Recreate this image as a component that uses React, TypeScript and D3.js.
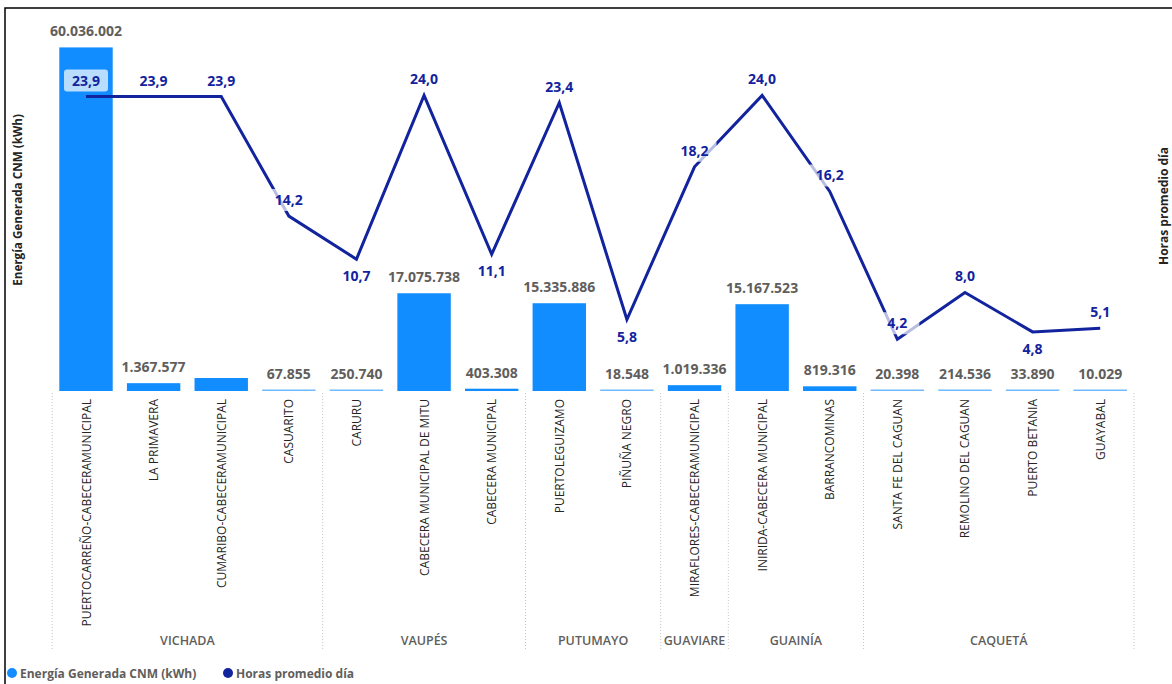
import React from "react";
import * as d3 from "d3";

const categories = [
  "PUERTOCARREÑO-CABECERAMUNICIPAL",
  "LA PRIMAVERA",
  "CUMARIBO-CABECERAMUNICIPAL",
  "CASUARITO",
  "CARURU",
  "CABECERA MUNICIPAL DE MITU",
  "CABECERA MUNICIPAL",
  "PUERTOLEGUIZAMO",
  "PIÑUÑA NEGRO",
  "MIRAFLORES-CABECERAMUNICIPAL",
  "INIRIDA-CABECERA MUNICIPAL",
  "BARRANCOMINAS",
  "SANTA FE DEL CAGUAN",
  "REMOLINO DEL CAGUAN",
  "PUERTO BETANIA",
  "GUAYABAL",
];

const departamentos = [
  "VICHADA", "VICHADA", "VICHADA", "VICHADA",
  "VAUPÉS", "VAUPÉS", "VAUPÉS",
  "PUTUMAYO", "PUTUMAYO",
  "GUAVIARE",
  "GUAINÍA", "GUAINÍA",
  "CAQUETÁ", "CAQUETÁ", "CAQUETÁ", "CAQUETÁ",
];

const energia = [
  60036002, 1367577, 2270000, 67855, 250740, 17075738, 403308, 15335886,
  18548, 1019336, 15167523, 819316, 20398, 214536, 33890, 10029,
];

// label for CUMARIBO is not shown in the reference
const energiaLabelShown = [
  true, true, false, true, true, true, true, true,
  true, true, true, true, true, true, true, true,
];

const horas = [23.9, 23.9, 23.9, 14.2, 10.7, 24.0, 11.1, 23.4, 5.8, 18.2, 24.0, 16.2, 4.2, 8.0, 4.8, 5.1];

const horasLabelBelow = [
  false, false, false, false, true, false, true, false,
  true, false, false, false, false, false, true, false,
];

const W = 1172;
const H = 684;
const FONT = "'Segoe UI', 'Open Sans', sans-serif";
const BAR = "#118DFF";
const LINE = "#12239E";
const GRAY = "#605E5C";

const fmtEs = (v: number) => d3.format(",")(v).replace(/,/g, ".");
const fmtDec = (v: number) => v.toFixed(1).replace(".", ",");

export default function App() {
  const x = d3
    .scaleBand<string>()
    .domain(categories)
    .range([52.2, 1134])
    .paddingInner(0.21)
    .paddingOuter(0.105);
  const yL = d3.scaleLinear().domain([0, 65000000]).range([391, 19]);
  const yR = d3.scaleLinear().domain([0, 30.2]).range([391, 19]);
  const bw = x.bandwidth();
  const step = x.step();
  const cx = (c: string) => (x(c) as number) + bw / 2;

  const line = d3
    .line<number>()
    .x((_, i) => cx(categories[i]))
    .y((d) => yR(d));

  const groups: { name: string; start: number; end: number }[] = [];
  departamentos.forEach((g, i) => {
    const last = groups[groups.length - 1];
    if (last && last.name === g) last.end = i;
    else groups.push({ name: g, start: i, end: i });
  });
  const gx0 = (i: number) => (x(categories[i]) as number) - (step - bw) / 2;
  const gx1 = (i: number) => (x(categories[i]) as number) + bw + (step - bw) / 2;

  return (
    <>
      <style>{`body{margin:0}`}</style>
      <svg width={W} height={H} style={{ display: "block", background: "#fff" }} fontFamily={FONT}>
        {/* frame */}
        <path d={`M5,${H} L5,8 L${W},8`} fill="none" stroke="#000" strokeWidth={1.5} />

        {/* axis titles */}
        <text
          transform={`translate(22,200) rotate(-90)`}
          textAnchor="middle"
          fontSize={11.7}
          fontWeight={700}
          fill="#252423"
        >
          Energía Generada CNM (kWh)
        </text>
        <text
          transform={`translate(1168,206) rotate(-90)`}
          textAnchor="middle"
          fontSize={12}
          fontWeight={700}
          fill="#252423"
        >
          Horas promedio día
        </text>

        {/* bars */}
        {categories.map((c, i) => {
          const top = yL(energia[i]);
          const h = Math.max(391 - top, 1.5);
          const small = 391 - top < 1.5;
          return (
            <rect
              key={c}
              x={x(c)}
              y={391 - h}
              width={bw}
              height={h}
              fill={BAR}
              opacity={small ? 0.6 : 1}
            />
          );
        })}

        {/* bar labels */}
        {categories.map((c, i) =>
          energiaLabelShown[i] ? (
            <text
              key={c}
              x={cx(c)}
              y={Math.min(yL(energia[i]), 389.5) - 11}
              textAnchor="middle"
              fontSize={14}
              fontWeight={700}
              fill={GRAY}
            >
              {fmtEs(energia[i])}
            </text>
          ) : null
        )}

        {/* line */}
        <path d={line(horas) || ""} fill="none" stroke={LINE} strokeWidth={3} strokeLinejoin="miter" />

        {/* line labels */}
        {categories.map((c, i) => {
          const py = yR(horas[i]);
          const cy = horasLabelBelow[i] ? py + 17 : py - 16;
          return (
            <g key={c}>
              <rect x={cx(c) - 22} y={cy - 11} width={44} height={22} rx={3} fill="#fff" opacity={0.7} />
              <text x={cx(c)} y={cy + 5} textAnchor="middle" fontSize={14} fontWeight={700} fill={LINE}>
                {fmtDec(horas[i])}
              </text>
            </g>
          );
        })}

        {/* category labels */}
        {categories.map((c) => (
          <text
            key={c}
            transform={`translate(${cx(c) + 4.5},399) rotate(-90)`}
            textAnchor="end"
            fontSize={12}
            fill="#252423"
          >
            {c}
          </text>
        ))}

        {/* group separators */}
        {groups.map((g, k) => (
          <g key={g.name}>
            {k === 0 && (
              <line x1={gx0(g.start)} x2={gx0(g.start)} y1={393} y2={650} stroke="#C8C6C4" strokeDasharray="1,2" />
            )}
            <line x1={gx1(g.end)} x2={gx1(g.end)} y1={393} y2={650} stroke="#C8C6C4" strokeDasharray="1,2" />
            <text
              x={(gx0(g.start) + gx1(g.end)) / 2}
              y={645}
              textAnchor="middle"
              fontSize={12.5}
              fontWeight={600}
              fill={GRAY}
            >
              {g.name}
            </text>
          </g>
        ))}

        {/* legend */}
        <circle cx={12} cy={673} r={5} fill={BAR} />
        <text x={20} y={677.5} fontSize={12} fontWeight={700} fill={GRAY}>
          Energía Generada CNM (kWh)
        </text>
        <circle cx={228} cy={673} r={5} fill={LINE} />
        <text x={236} y={677.5} fontSize={12} fontWeight={700} fill={GRAY}>
          Horas promedio día
        </text>
      </svg>
    </>
  );
}
